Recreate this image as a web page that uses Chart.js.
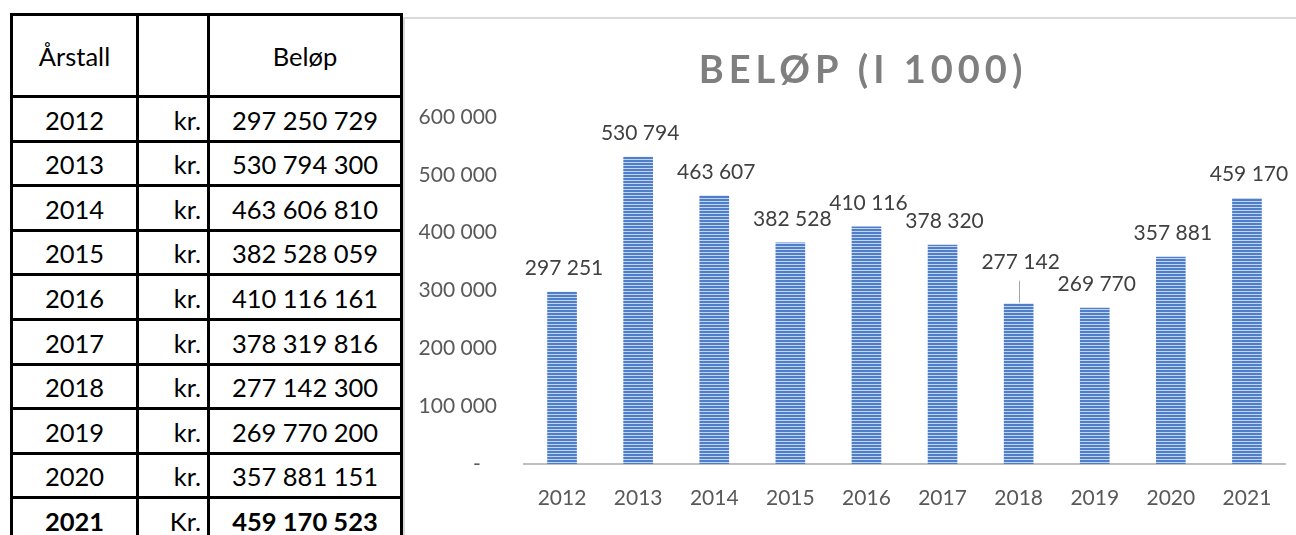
<!DOCTYPE html>
<html>
<head>
<meta charset="utf-8">
<script src="https://cdn.jsdelivr.net/npm/chart.js@4.4.0/dist/chart.umd.min.js"></script>
<style>
  body { margin: 0; width: 1296px; height: 535px; overflow: hidden; background: #fff; font-family: Lato, sans-serif; }
  #tabell { position: absolute; left: 10px; top: 13px; border-collapse: collapse; table-layout: fixed; width: 390px; font-size: 25.5px; color: #000; }
  #tabell td { border: 3px solid #000; padding: 3px 7px 0 7px; text-align: center; line-height: 1; }
  #tabell td.kr { text-align: right; padding-right: 6px; }
  #tabell tr { height: 44.6px; }
  #tabell tr.hode { height: 82px; }
  #tabell .fet { font-weight: bold; }
  #ramme { position: absolute; left: 403px; top: 17px; width: 893px; height: 518px; border-top: 2px solid #d9d9d9; border-left: 2px solid #d9d9d9; box-sizing: border-box; }
  #ramme canvas { display: block; }
</style>
</head>
<body>
<table id="tabell">
  <colgroup><col style="width:126px"><col style="width:71px"><col style="width:193px"></colgroup>
  <tbody id="rader">
    <tr class="hode"><td>Årstall</td><td></td><td>Beløp</td></tr>
  </tbody>
</table>
<div id="ramme"><canvas id="myChart" width="891" height="516"></canvas></div>

<script>
const aar = ['2012', '2013', '2014', '2015', '2016', '2017', '2018', '2019', '2020', '2021'];
// tabellbeløp i kroner
const belopKr = [297250729, 530794300, 463606810, 382528059, 410116161, 378319816, 277142300, 269770200, 357881151, 459170523];
// diagramverdier i tusen kroner
const belopTusen = [297251, 530794, 463607, 382528, 410116, 378320, 277142, 269770, 357881, 459170];
const yTicks = [0, 100000, 200000, 300000, 400000, 500000, 600000];

function mellomrom(n) {
    return Math.round(n).toString().replace(/\B(?=(\d{3})+(?!\d))/g, ' ');
}

// tabellen til venstre
const rader = document.getElementById('rader');
aar.forEach((a, i) => {
    const siste = i === aar.length - 1;
    const tr = document.createElement('tr');
    tr.innerHTML = '<td class="' + (siste ? 'fet' : '') + '">' + a + '</td>' +
        '<td class="kr">' + (siste ? 'Kr.' : 'kr.') + '</td>' +
        '<td class="' + (siste ? 'fet' : '') + '">' + mellomrom(belopKr[i]) + '</td>';
    rader.appendChild(tr);
});

// stripete fyll
const p = document.createElement('canvas');
p.width = 4; p.height = 3;
const pc = p.getContext('2d');
pc.fillStyle = '#4f7fc8';
pc.fillRect(0, 0, 4, 2);
pc.fillStyle = '#c2d4f0';
pc.fillRect(0, 2, 4, 1);
const striper = pc.createPattern(p, 'repeat');

const tittel = {
    id: 'tittel',
    afterDraw(chart) {
        const ctx = chart.ctx;
        ctx.save();
        ctx.font = 'bold 38px Lato';
        ctx.letterSpacing = '5px';
        ctx.fillStyle = '#7f7f7f';
        ctx.textAlign = 'center';
        ctx.textBaseline = 'middle';
        ctx.fillText('BELØP (I 1000)', 458, 52);
        ctx.restore();
    }
};

const etiketter = {
    id: 'etiketter',
    afterDatasetsDraw(chart) {
        const ctx = chart.ctx;
        const meta = chart.getDatasetMeta(0);
        ctx.save();
        ctx.font = '21px Lato';
        ctx.fillStyle = '#404040';
        ctx.textAlign = 'center';
        ctx.textBaseline = 'middle';
        meta.data.forEach((bar, i) => {
            let y = bar.y - 24;
            if (i === 6) {
                // 2018 flyttet opp med linje
                y = bar.y - 41;
                ctx.strokeStyle = '#a6a6a6';
                ctx.lineWidth = 1;
                ctx.beginPath();
                ctx.moveTo(Math.round(bar.x) + 0.5, bar.y - 23);
                ctx.lineTo(Math.round(bar.x) + 0.5, bar.y - 1);
                ctx.stroke();
            }
            ctx.fillText(mellomrom(belopTusen[i]), bar.x + 2, y);
        });
        ctx.restore();
    }
};

const cht = document.getElementById('myChart').getContext('2d');
const myChart = new Chart(cht, {
    type: 'bar',
    data: {
        labels: aar,
        datasets: [{
            label: 'Beløp (i 1000)',
            data: belopTusen,
            backgroundColor: striper,
            borderWidth: 0,
            barThickness: 29
        }]
    },
    options: {
        responsive: false,
        animation: false,
        events: [],
        layout: { padding: { top: 98, right: 11, left: 0, bottom: 0 } },
        plugins: { legend: { display: false }, tooltip: { enabled: false } },
        scales: {
            x: {
                grid: { display: false, drawTicks: false },
                border: { color: '#bfbfbf', width: 2 },
                ticks: { color: '#595959', font: { family: 'Lato', size: 21 }, padding: 22 },
                afterFit(s) { s.height = 71; }
            },
            y: {
                min: 0,
                max: 600000,
                afterBuildTicks(s) { s.ticks = yTicks.map(v => ({ value: v })); },
                grid: { display: false, drawTicks: false },
                border: { display: false },
                ticks: {
                    color: '#595959',
                    font: { family: 'Lato', size: 21 },
                    padding: 27,
                    callback: v => v === 0 ? '-   ' : mellomrom(v)
                },
                afterFit(s) { s.width = 119; }
            }
        }
    },
    plugins: [tittel, etiketter]
});
</script>
</body>
</html>
